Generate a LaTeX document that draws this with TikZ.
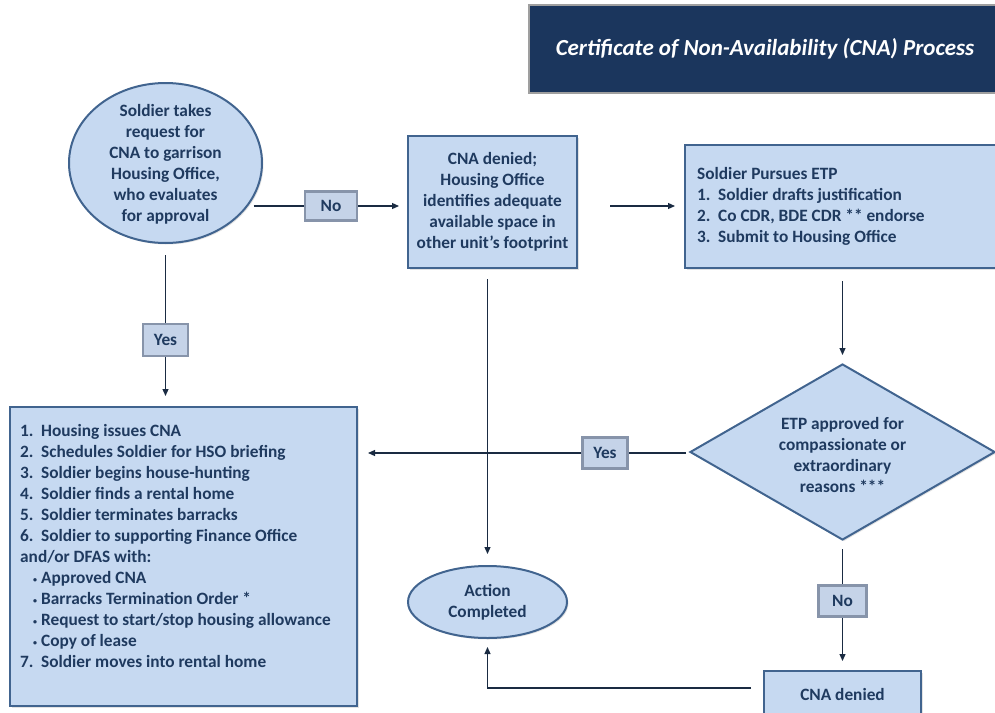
\documentclass[tikz,border=0pt]{standalone}
\usepackage{fontspec}
\setmainfont{Carlito}
\usetikzlibrary{arrows.meta,shapes.geometric,shadows,calc}
\definecolor{fillb}{HTML}{C6D9F1}
\definecolor{edgeb}{HTML}{41648F}
\definecolor{txtb}{HTML}{1F3A5F}
\definecolor{navy}{HTML}{1B365D}
\definecolor{lineb}{HTML}{1A2B42}
\definecolor{labfill}{HTML}{C5D3E8}
\definecolor{labedge}{HTML}{8794AA}
\newcommand{\nm}[1]{\makebox[21pt][l]{#1}}
\newcommand{\bl}{\makebox[21pt][r]{\footnotesize\raisebox{1pt}{•}\hspace{4pt}}}
\begin{document}
\begin{tikzpicture}[x=1pt,y=-1pt,
  every node/.style={font=\fontsize{17.3}{21}\selectfont\bfseries, text=txtb, inner sep=0pt},
  shp/.style={draw=edgeb, line width=2pt, fill=fillb,
    drop shadow={opacity=0.22, shadow xshift=1.5pt, shadow yshift=-1.5pt}},
  boxs/.style={shp, rectangle},
  lab/.style={rectangle, fill=labfill, draw=labedge, line width=2.5pt},
  ln/.style={draw=lineb, line width=1.2pt},
  arr/.style={ln, -{Triangle[length=7pt,width=6pt]}},
]
\useasboundingbox (0,0) rectangle (995,712);

% title
\node[fill=navy, draw=gray!75, line width=1.5pt, minimum width=472pt, minimum height=88pt,
  text=white, font=\fontsize{23}{27}\selectfont\bfseries\itshape] (title) at (765,49)
  {Certificate of Non-Availability (CNA) Process};

% start ellipse
\node[shp, ellipse, minimum width=193pt, minimum height=160pt] (start) at (165.5,163) {};
\node[align=center] (starttxt) at ([yshift=-1pt]start.center)
  {Soldier takes\\request for\\CNA to garrison\\Housing Office,\\who evaluates\\for approval};

% CNA denied; housing office
\node[boxs, minimum width=169pt, minimum height=132pt, align=center] (deny) at (492.5,202)
  {CNA denied;\\Housing Office\\identifies adequate\\available space in\\other unit’s footprint};

% ETP box
\node[boxs, minimum width=314pt, minimum height=123pt] (etp) at (842,206.5) {};
\node[anchor=west, align=left] (etptxt) at ([xshift=13pt]etp.west)
  {Soldier Pursues ETP\\\nm{1.}Soldier drafts justification\\\nm{2.}Co CDR, BDE CDR ** endorse\\\nm{3.}Submit to Housing Office};

% list box
\node[boxs, minimum width=347pt, minimum height=299pt] (list) at (183.5,556.5) {};
\node[anchor=north west, align=left] (listtxt) at ([shift={(11pt,-18pt)}]list.north west)
  {\nm{1.}Housing issues CNA\\
   \nm{2.}Schedules Soldier for HSO briefing\\
   \nm{3.}Soldier begins house-hunting\\
   \nm{4.}Soldier finds a rental home\\
   \nm{5.}Soldier terminates barracks\\
   \nm{6.}Soldier to supporting Finance Office\\
   and/or DFAS with:\\
   \bl Approved CNA\\
   \bl Barracks Termination Order *\\
   \bl Request to start/stop housing allowance\\
   \bl Copy of lease\\
   \nm{7.}Soldier moves into rental home};

% diamond
\node[shp, diamond, minimum width=305pt, minimum height=176pt] (diam) at (842.5,452) {};
\node[align=center] (diamtxt) at (842.5,455)
  {ETP approved for\\compassionate or\\extraordinary\\reasons ***};

% action completed
\node[shp, ellipse, minimum width=159pt, minimum height=72pt, align=center] (action) at (487.5,602)
  {Action\\Completed};

% CNA denied bottom
\node[boxs, minimum width=157pt, minimum height=46pt] (cna2) at (842.5,694) {CNA denied};

% labels
\node[lab, minimum width=52pt, minimum height=29pt] (nolab) at (331,206) {No};
\node[lab, minimum width=45pt, minimum height=32pt] (yeslab) at (165.5,340) {Yes};
\node[lab, minimum width=45pt, minimum height=31pt] (yes2) at (605,453) {Yes};
\node[lab, minimum width=48pt, minimum height=31pt] (no2) at (842.5,601) {No};

% connectors
\draw[ln, shorten <=6pt] (start.-28 |- nolab) -- (nolab.west);
\draw[arr, shorten >=8pt] (nolab.east) -- (deny.west |- nolab);
\draw[arr, shorten <=32pt, shorten >=9pt] (deny.east |- nolab) -- (etp.west |- nolab);
\draw[ln, shorten <=11pt] (start.south) -- (yeslab.north);
\draw[arr, shorten >=10pt] (yeslab.south) -- (yeslab |- list.north);
\draw[arr, shorten <=10pt, shorten >=11pt] (action |- deny.south) -- (action.north);
\draw[arr, shorten <=12pt, shorten >=8pt] (diam |- etp.south) -- (diam.north);
\draw[ln, shorten <=3pt] (diam.west |- yes2) -- (yes2.east);
\draw[arr, shorten >=10pt] (yes2.west) -- (list.east |- yes2);
\draw[ln, shorten <=8pt] (diam.south) -- (no2.north);
\draw[arr, shorten >=9pt] (no2.south) -- (cna2.north);
\draw[arr, shorten <=12pt, shorten >=8pt] ($(cna2.west)+(0,-6)$) -| (action.south);
\end{tikzpicture}
\end{document}
